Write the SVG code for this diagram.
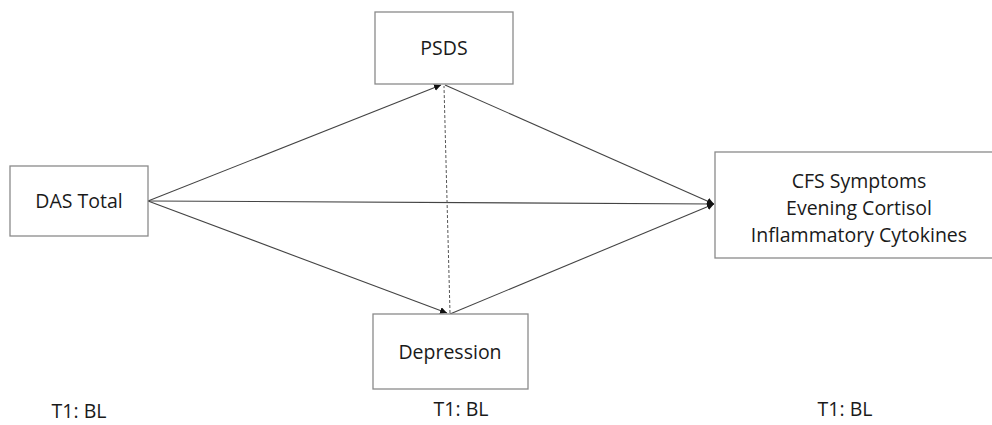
<svg xmlns="http://www.w3.org/2000/svg" width="992" height="425" viewBox="0 0 992 425">
<defs>
<style>
.box{fill:#fff;stroke:#8a8a8a;stroke-width:1.3}
.lbl{font-family:"Open Sans","Liberation Sans",sans-serif;font-size:19.5px;fill:#1a1a1a;text-anchor:middle}
.edge{stroke:#444;stroke-width:1.1;fill:none}
.dash{stroke:#555;stroke-width:1;stroke-dasharray:3,2;fill:none}
</style>
<marker id="ah" viewBox="0 0 10 10" refX="10" refY="5" markerWidth="7" markerHeight="7" markerUnits="userSpaceOnUse" orient="auto">
<path d="M0,0 L10,5 L0,10 z" fill="#111"/>
</marker>
</defs>
<rect width="992" height="425" fill="#fff"/>
<g id="connectors">
<line class="edge" x1="148" y1="201" x2="441" y2="85" marker-end="url(#ah)"/>
<line class="edge" x1="148" y1="201" x2="447" y2="313" marker-end="url(#ah)"/>
<line class="edge" x1="148" y1="201" x2="714" y2="204" marker-end="url(#ah)"/>
<line class="edge" x1="445" y1="85" x2="714" y2="204" marker-end="url(#ah)"/>
<line class="edge" x1="450" y1="314" x2="714" y2="204" marker-end="url(#ah)"/>
<line class="dash" x1="450" y1="313" x2="444" y2="86"/>
</g>
<g id="psds">
<rect class="box" x="375" y="12" width="138" height="72"/>
<text class="lbl" x="444" y="55">PSDS</text>
</g>
<g id="das">
<rect class="box" x="10" y="166" width="138" height="70"/>
<text class="lbl" x="79" y="208">DAS Total</text>
</g>
<g id="depression">
<rect class="box" x="373" y="314" width="155" height="75"/>
<text class="lbl" x="450" y="359">Depression</text>
</g>
<g id="outcomes">
<rect class="box" x="715" y="152" width="290" height="106"/>
<text class="lbl" x="859" y="188">CFS Symptoms</text>
<text class="lbl" x="859" y="215">Evening Cortisol</text>
<text class="lbl" x="859" y="242">Inflammatory Cytokines</text>
</g>
<g id="timepoints">
<text class="lbl" x="79" y="418">T1: BL</text>
<text class="lbl" x="461" y="416">T1: BL</text>
<text class="lbl" x="845" y="416">T1: BL</text>
</g>
</svg>
